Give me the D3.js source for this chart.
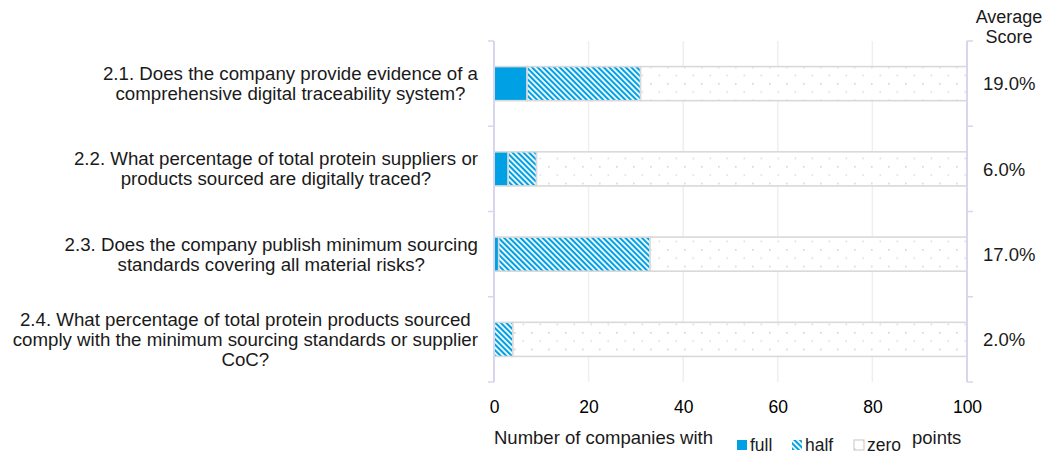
<!DOCTYPE html>
<html>
<head>
<meta charset="utf-8">
<script src="https://cdn.jsdelivr.net/npm/d3@7"></script>
<style>
  html, body { margin: 0; padding: 0; background: #fff; }
  svg { display: block; font-family: "Liberation Sans", Arial, sans-serif; }
</style>
</head>
<body>
<svg id="chart" width="1060" height="455"></svg>
<script>
// ---- data ----
const categories = [
  "2.1. Does the company provide evidence of a|comprehensive digital traceability system?",
  "2.2. What percentage of total protein suppliers or|products sourced are digitally traced?",
  "2.3. Does the company publish minimum sourcing|standards covering all material risks?",
  "2.4. What percentage of total protein products sourced|comply with the minimum sourcing standards or supplier|CoC?"
];
const fullPoints = [7, 3, 1, 0];
const halfPoints = [24, 6, 32, 4];
const zeroPoints = [69, 91, 67, 96];
const averageScores = ["19.0%", "6.0%", "17.0%", "2.0%"];
const xTicks = [0, 20, 40, 60, 80, 100];
const seriesNames = ["full", "half", "zero"];

(function () {
// ---- layout ----
const svg = d3.select("#chart");
const plotL = 494, plotR = 967, plotT = 41, plotB = 382;
const x = d3.scaleLinear().domain([0, 100]).range([plotL, plotR]);
const y = d3.scaleBand().domain(d3.range(categories.length)).range([plotT, plotB]).paddingInner(0.6).paddingOuter(0.3);

const blue = "#00a1e4";
const defs = svg.append("defs");
const stripes = defs.append("pattern").attr("id", "half").attr("patternUnits", "userSpaceOnUse")
  .attr("width", 3.9).attr("height", 3.9).attr("patternTransform", "rotate(-45)");
stripes.append("rect").attr("width", 3.9).attr("height", 3.9).attr("fill", "#fff");
stripes.append("rect").attr("width", 2.1).attr("height", 3.9).attr("fill", blue);

const dots = defs.append("pattern").attr("id", "zero").attr("patternUnits", "userSpaceOnUse")
  .attr("width", 17).attr("height", 16.6).attr("x", plotL + 3).attr("y", 0);
dots.append("rect").attr("width", 17).attr("height", 16.6).attr("fill", "#fff");
dots.append("rect").attr("x", 0).attr("y", 0).attr("width", 1.6).attr("height", 1.6).attr("fill", "#cdd4f2");
dots.append("rect").attr("x", 8.5).attr("y", 8.3).attr("width", 1.6).attr("height", 1.6).attr("fill", "#d6dcf5");

// gridlines
svg.append("g").selectAll("line").data(xTicks.filter(d => d > 0 && d < 100)).join("line")
  .attr("x1", d => x(d)).attr("x2", d => x(d)).attr("y1", plotT).attr("y2", plotB)
  .attr("stroke", "#efefef").attr("stroke-width", 1.5);

// stacked bars
const stackData = categories.map((c, i) => ({ i, full: fullPoints[i], half: halfPoints[i], zero: zeroPoints[i] }));
const stacked = d3.stack().keys(seriesNames)(stackData);
const fills = { full: blue, half: "url(#half)", zero: "url(#zero)" };
svg.append("g").selectAll("g").data(stacked).join("g")
  .attr("fill", d => fills[d.key])
  .selectAll("rect").data(d => d).join("rect")
  .attr("x", d => x(d[0])).attr("width", d => x(d[1]) - x(d[0]))
  .attr("y", d => y(d.data.i)).attr("height", y.bandwidth())
  .attr("stroke", "#d9d9d9").attr("stroke-width", 1.6);

// axes (left and right) with category-boundary ticks
const axisColor = "#d6d6ef";
const boundaries = d3.range(categories.length + 1).map(k => plotT + k * (plotB - plotT) / categories.length);
[[plotL, -6], [plotR, 6]].forEach(([ax, dir]) => {
  const g = svg.append("g");
  g.append("line").attr("x1", ax).attr("x2", ax).attr("y1", plotT).attr("y2", plotB)
    .attr("stroke", axisColor).attr("stroke-width", 2);
  g.selectAll("line.t").data(boundaries).join("line").attr("class", "t")
    .attr("x1", ax).attr("x2", ax + dir).attr("y1", d => d).attr("y2", d => d)
    .attr("stroke", axisColor).attr("stroke-width", 1.5);
});

// x tick labels
const xAxis = svg.append("g").attr("transform", `translate(0,${plotB})`)
  .call(d3.axisBottom(x).tickValues(xTicks).tickSize(0).tickPadding(19).tickFormat(d3.format("d")));
xAxis.select(".domain").remove();
xAxis.selectAll("text").attr("font-size", 17.5).attr("fill", "#000")
  .attr("font-family", "'Liberation Sans', Arial, sans-serif");

// category labels (block right-aligned, lines centered)
const labelRight = 478, lh = 20;
categories.forEach((c, i) => {
  const lines = c.split("|");
  const cy = y(i) + y.bandwidth() / 2;
  const g = svg.append("g");
  const texts = lines.map((ln, k) => g.append("text").text(ln)
    .attr("font-size", 18.7).attr("fill", "#1a1a1a").attr("text-anchor", "middle")
    .attr("y", cy - (lines.length - 1) / 2 * lh + k * lh + 6.5));
  const maxW = d3.max(texts, t => t.node().getComputedTextLength());
  texts.forEach(t => t.attr("x", labelRight - maxW / 2));
});

// average score labels
svg.append("g").selectAll("text").data(averageScores).join("text")
  .attr("x", 983).attr("y", (d, i) => y(i) + y.bandwidth() / 2 + 6.7)
  .attr("font-size", 18.5).attr("fill", "#1a1a1a").text(d => d);
svg.append("text").attr("x", 1009).attr("y", 23).attr("text-anchor", "middle")
  .attr("font-size", 18).attr("fill", "#1a1a1a").text("Average");
svg.append("text").attr("x", 1009).attr("y", 43).attr("text-anchor", "middle")
  .attr("font-size", 18).attr("fill", "#1a1a1a").text("Score");

// axis title + legend
svg.append("text").attr("x", 494).attr("y", 444).attr("font-size", 18.5).attr("fill", "#1a1a1a")
  .text("Number of companies with");
const legendX = { full: 737, half: 792, zero: 854 };
const lg = svg.append("g");
seriesNames.forEach(k => {
  lg.append("rect").attr("x", legendX[k]).attr("y", 440).attr("width", 10).attr("height", 10)
    .attr("fill", fills[k]).attr("stroke", k === "zero" ? "#cfcfcf" : "none").attr("stroke-width", 1.2);
  lg.append("text").attr("x", legendX[k] + 13).attr("y", 451).attr("font-size", 17.5).attr("fill", "#1a1a1a").text(k);
});
svg.append("text").attr("x", 912).attr("y", 444).attr("font-size", 18.5).attr("fill", "#1a1a1a").text("points");
})();
</script>
</body>
</html>
